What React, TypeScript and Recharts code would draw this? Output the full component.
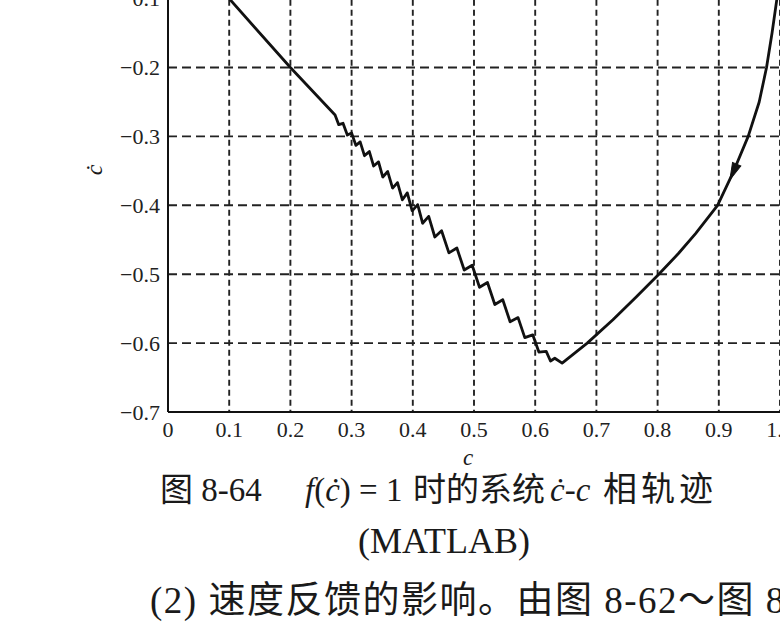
import React from "react";
import { LineChart, Line, XAxis, YAxis, CartesianGrid } from "recharts";

// Phase trajectory, in the order the system travels it
const cValues = [
  1.0, 0.995, 0.987, 0.978, 0.966, 0.948, 0.924, 0.898, 0.862, 0.834, 0.8, 0.765, 0.727, 0.685,
  0.644, 0.632, 0.625, 0.618, 0.606, 0.596, 0.583, 0.572, 0.559, 0.547, 0.534, 0.522, 0.509, 0.497,
  0.484, 0.472, 0.459, 0.447, 0.436, 0.426, 0.416, 0.408, 0.399, 0.391, 0.383, 0.375, 0.367, 0.359,
  0.351, 0.344, 0.336, 0.329, 0.321, 0.314, 0.307, 0.3, 0.293, 0.286, 0.279, 0.273, 0.2, 0.1, 0.05,
];
const cdotValues = [
  -0.04, -0.1, -0.15, -0.2, -0.25, -0.3, -0.351, -0.4, -0.441, -0.47, -0.502, -0.533, -0.566, -0.6,
  -0.629, -0.622, -0.626, -0.612, -0.613, -0.588, -0.592, -0.563, -0.569, -0.537, -0.544, -0.512, -0.519, -0.487,
  -0.494, -0.462, -0.469, -0.437, -0.446, -0.416, -0.426, -0.399, -0.408, -0.382, -0.392, -0.367, -0.375, -0.351,
  -0.359, -0.337, -0.343, -0.322, -0.328, -0.308, -0.313, -0.295, -0.298, -0.281, -0.283, -0.269, -0.2, -0.1, -0.05,
];
const ARROW_INDEX = 6;

const xTicks = [0, 0.1, 0.2, 0.3, 0.4, 0.5, 0.6, 0.7, 0.8, 0.9, 1.0];
const yTicks = [-0.7, -0.6, -0.5, -0.4, -0.3, -0.2, -0.1, 0];

const data = cValues.map((c, i) => ({ c, cdot: cdotValues[i] }));

const SERIF = '"Liberation Serif", "Noto Sans CJK SC", serif';

const fmtX = (v: number) => (v === 0 ? "0" : v.toFixed(1));
const fmtY = (v: number) => (v === 0 ? "0" : "\u2212" + Math.abs(v).toFixed(1));

const renderDot = (props: any) => {
  const { cx, cy, index } = props;
  if (index !== ARROW_INDEX || cx == null || cy == null) return <g key={"d" + index} />;
  return (
    <g key={"d" + index} transform={`translate(${cx},${cy}) rotate(113.5)`}>
      <polygon points="9,0 -8,-4.5 -8,4.5" fill="#111" stroke="#111" strokeWidth={1} />
    </g>
  );
};

const T = ({
  x,
  y,
  size,
  children,
  style,
}: {
  x: number;
  y: number;
  size: number;
  children: React.ReactNode;
  style?: React.CSSProperties;
}) => (
  <div
    style={{
      position: "absolute",
      left: x,
      top: y - size / 2,
      fontSize: size,
      lineHeight: `${size}px`,
      fontFamily: SERIF,
      color: "#1a1a1a",
      whiteSpace: "nowrap",
      ...style,
    }}
  >
    {children}
  </div>
);

export default function App() {
  return (
    <div
      style={{
        position: "absolute",
        left: 0,
        top: 0,
        width: 780,
        height: 630,
        overflow: "hidden",
        background: "#fff",
      }}
    >
      <div style={{ position: "absolute", left: 0, top: -100 }}>
        <LineChart
          width={810}
          height={562}
          data={data}
          margin={{ top: 29.7, right: 30, bottom: 10, left: 108 }}
        >
          <CartesianGrid
            vertical={false}
            stroke="#222"
            strokeWidth={1.9}
            strokeDasharray="9 5"
          />
          <CartesianGrid
            horizontal={false}
            stroke="#222"
            strokeWidth={1.9}
            strokeDasharray="6 4"
          />
          <XAxis
            dataKey="c"
            type="number"
            domain={[0, 1]}
            ticks={xTicks}
            interval={0}
            tickFormatter={fmtX}
            tickLine={false}
            tickSize={0}
            tickMargin={9}
            height={40}
            axisLine={{ stroke: "#111", strokeWidth: 2 }}
            tick={{ fill: "#222", fontSize: 22, fontFamily: SERIF }}
          />
          <YAxis
            dataKey="cdot"
            type="number"
            domain={[-0.7, 0]}
            ticks={yTicks}
            interval={0}
            tickFormatter={fmtY}
            tickLine={false}
            tickSize={0}
            tickMargin={8}
            width={60}
            axisLine={{ stroke: "#111", strokeWidth: 2 }}
            tick={{ fill: "#222", fontSize: 22, fontFamily: SERIF }}
          />
          <Line
            type="linear"
            dataKey="cdot"
            stroke="#111"
            strokeWidth={2.8}
            strokeLinejoin="round"
            dot={renderDot}
            activeDot={false}
            isAnimationActive={false}
          />
        </LineChart>
      </div>

      {/* axis labels */}
      <T
        x={94}
        y={170}
        size={24}
        style={{ fontStyle: "italic", transform: "translate(-50%, 0) rotate(-90deg)" }}
      >
        ċ
      </T>
      <T x={468} y={457} size={23} style={{ fontStyle: "italic", transform: "translateX(-50%)" }}>
        c
      </T>

      {/* caption */}
      <T x={160} y={490} size={33}>图 8-64</T>
      <T x={305} y={490} size={33}>
        <i>f</i>(<i>ċ</i>) = 1
      </T>
      <T x={413} y={490} size={33}>时的系统</T>
      <T x={550} y={490} size={33}>
        <i>ċ</i>-<i>c</i>
      </T>
      <T x={603} y={490} size={34} style={{ letterSpacing: 4 }}>相轨迹</T>
      <T x={444} y={541} size={36} style={{ transform: "translateX(-50%)" }}>
        (MATLAB)
      </T>
      <T x={150} y={600} size={37} style={{ letterSpacing: 1.5 }}>
        (2) 速度反馈的影响。由图 8-62～图 8-64
      </T>
    </div>
  );
}
